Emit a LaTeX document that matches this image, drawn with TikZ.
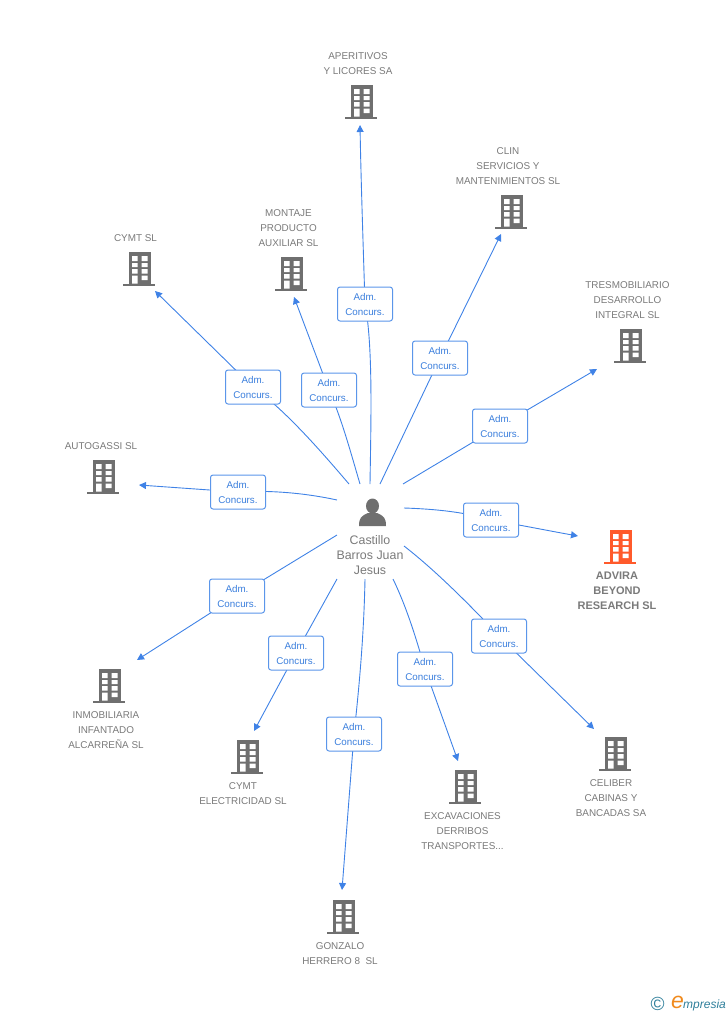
\documentclass[tikz,border=0pt]{standalone}
\usepackage{fontspec}
\setmainfont{Liberation Sans}
\usetikzlibrary{arrows.meta}
\definecolor{linkc}{HTML}{3F82E6}
\definecolor{boxc}{HTML}{5B96EA}
\definecolor{labc}{HTML}{3B7FDD}
\definecolor{txtc}{HTML}{7A7A7A}
\definecolor{bldc}{HTML}{6F6F6F}
\definecolor{hotc}{HTML}{FF5A2B}
\definecolor{tealc}{HTML}{2F7F9B}
\definecolor{orgc}{HTML}{F08A1D}
\newcommand{\bldshape}[1]{%
  \begin{scope}[shift={(path picture bounding box.center)}]
    \fill[#1] (-10,-17) rectangle (11.5,15);
    \fill[#1] (-16,14.5) rectangle (16,17);
    \fill[white] (-7,-13) rectangle (-1.5,-8) (2.5,-13) rectangle (8.5,-8)
                 (-7,-6) rectangle (-1.5,-2) (2.5,-6) rectangle (8.5,-2)
                 (-7,0) rectangle (-1.5,4.5) (2.5,0) rectangle (8.5,4.5)
                 (-7,6.5) rectangle (-1.5,14.5) (2.5,6.5) rectangle (8.5,11);
  \end{scope}}
\tikzset{
  x=1pt,y=-1pt,
  bld/.style={minimum width=32pt,minimum height=34pt,inner sep=0pt,outer sep=0pt,path picture={\bldshape{bldc}}},
  bldhot/.style={minimum width=32pt,minimum height=34pt,inner sep=0pt,outer sep=0pt,path picture={\bldshape{hotc}}},
  cname/.style={inner sep=0pt,align=center,text=txtc,font=\fontsize{9.9}{15}\selectfont},
  cnamebold/.style={cname,font=\fontsize{11}{15}\selectfont\bfseries},
  pers/.style={inner sep=0pt,align=center,text=txtc,font=\fontsize{12.4}{15}\selectfont},
  rolebox/.style={draw=boxc,line width=1pt,fill=white,rounded corners=2.5pt,minimum width=55pt,minimum height=34pt,inner sep=0pt,align=center,text=labc,font=\fontsize{9.8}{15}\selectfont},
  linkline/.style={draw=linkc,line width=0.9pt},
  linkarrow/.style={linkline,-{Triangle[length=7pt,width=7pt]}},
}
\newcommand{\rolelabel}{Adm.\\Concurs.}
\begin{document}
\begin{tikzpicture}
\useasboundingbox (0,0) rectangle (728,1015);
% buildings
\node[bld] (b1) at (361,102) {};
\node[bld] (b2) at (511,212) {};
\node[bld] (b3) at (630,346) {};
\node[bldhot] (b4) at (620,547) {};
\node[bld] (b5) at (615,754) {};
\node[bld] (b6) at (465,787) {};
\node[bld] (b7) at (343,917) {};
\node[bld] (b8) at (247,757) {};
\node[bld] (b9) at (109,686) {};
\node[bld] (b10) at (103,477) {};
\node[bld] (b11) at (139,269) {};
\node[bld] (b12) at (291,274) {};
% names
\node[cname] (n1) at (358,64) {APERITIVOS\\Y LICORES SA};
\node[cname] (n2) at (508,166.5) {CLIN\\SERVICIOS Y\\MANTENIMIENTOS SL};
\node[cname] (n3) at (627.5,300.5) {TRESMOBILIARIO\\DESARROLLO\\INTEGRAL SL};
\node[cnamebold] (n4) at (617,591) {ADVIRA\\BEYOND\\RESEARCH SL};
\node[cname] (n5) at (611,798.5) {CELIBER\\CABINAS Y\\BANCADAS SA};
\node[cname] (n6) at (462.5,831.5) {EXCAVACIONES\\DERRIBOS\\TRANSPORTES...};
\node[cname] (n7) at (340,954) {GONZALO\\HERRERO 8\ \ SL};
\node[cname] (n8) at (243,794) {CYMT\\ELECTRICIDAD SL};
\node[cname] (n9) at (106,730.5) {INMOBILIARIA\\INFANTADO\\ALCARREÑA SL};
\node[cname] (n10) at (101,446.5) {AUTOGASSI SL};
\node[cname] (n11) at (135.5,238.5) {CYMT SL};
\node[cname] (n12) at (288.5,228.5) {MONTAJE\\PRODUCTO\\AUXILIAR SL};
% connector ends
\coordinate (s1) at (370,484); \coordinate (e1) at (360,125);
\coordinate (s2) at (380,484); \coordinate (e2) at (501,234);
\coordinate (s3) at (403,484); \coordinate (e3) at (597,369);
\coordinate (s4) at (404,508); \coordinate (e4) at (578,536);
\coordinate (s5) at (404,546); \coordinate (e5) at (594,729);
\coordinate (s6) at (393,579); \coordinate (e6) at (458,761);
\coordinate (s7) at (365,579); \coordinate (e7) at (342,890);
\coordinate (s8) at (337,579); \coordinate (e8) at (254,731);
\coordinate (s9) at (337,535); \coordinate (e9) at (137,660);
\coordinate (s10) at (337,500); \coordinate (e10) at (139,485);
\coordinate (s11) at (349,484); \coordinate (e11) at (155,291);
\coordinate (s12) at (360,484); \coordinate (e12) at (294,297);
% role boxes positions
\coordinate (p1) at (365,304);
\coordinate (p2) at (440,358);
\coordinate (p3) at (500,426);
\coordinate (p4) at (491,520);
\coordinate (p5) at (499,636);
\coordinate (p6) at (425,669);
\coordinate (p7) at (354,734);
\coordinate (p8) at (296,653);
\coordinate (p9) at (237,596);
\coordinate (p10) at (238,492);
\coordinate (p11) at (253,387);
\coordinate (p12) at (329,390);
% connectors
\path[linkline] (s1) .. controls (371,420) and (373,345) .. (p1);
\path[linkarrow] (p1) .. controls (363,240) and (361,180) .. (e1);
\path[linkline] (s2) -- (p2);
\path[linkarrow] (p2) -- (e2);
\path[linkline] (s3) -- (p3);
\path[linkarrow] (p3) -- (e3);
\path[linkline] (s4) .. controls (435,509) and (465,512) .. (p4);
\path[linkarrow] (p4) .. controls (520,525) and (550,531) .. (e4);
\path[linkline] (s5) .. controls (435,570) and (470,605) .. (p5);
\path[linkarrow] (p5) -- (e5);
\path[linkline] (s6) .. controls (408,610) and (418,645) .. (p6);
\path[linkarrow] (p6) -- (e6);
\path[linkline] (s7) .. controls (364,630) and (360,680) .. (p7);
\path[linkarrow] (p7) -- (e7);
\path[linkline] (s8) -- (p8);
\path[linkarrow] (p8) -- (e8);
\path[linkline] (s9) -- (p9);
\path[linkarrow] (p9) -- (e9);
\path[linkline] (s10) .. controls (305,493) and (270,490) .. (p10);
\path[linkarrow] (p10) -- (e10);
\path[linkline] (s11) .. controls (320,450) and (285,410) .. (p11);
\path[linkarrow] (p11) -- (e11);
\path[linkline] (s12) .. controls (350,450) and (342,420) .. (p12);
\path[linkarrow] (p12) -- (e12);
% role boxes
\node[rolebox] (r1) at (p1) {\rolelabel};
\node[rolebox] (r2) at (p2) {\rolelabel};
\node[rolebox] (r3) at (p3) {\rolelabel};
\node[rolebox] (r4) at (p4) {\rolelabel};
\node[rolebox] (r5) at (p5) {\rolelabel};
\node[rolebox] (r6) at (p6) {\rolelabel};
\node[rolebox] (r7) at (p7) {\rolelabel};
\node[rolebox] (r8) at (p8) {\rolelabel};
\node[rolebox] (r9) at (p9) {\rolelabel};
\node[rolebox] (r10) at (p10) {\rolelabel};
\node[rolebox] (r11) at (p11) {\rolelabel};
\node[rolebox] (r12) at (p12) {\rolelabel};
% person
\fill[bldc] (372.5,506) ellipse (6.5 and 7.5);
\fill[bldc] (359,526) .. controls (359,518) and (361,516) .. (368,513) -- (377,513) .. controls (384,516) and (386,518) .. (386,526) -- cycle;
\node[pers] (person) at (370,555) {Castillo\\Barros Juan\\Jesus};
% logo
\node[inner sep=0pt,text=tealc,font=\fontsize{19}{19}\selectfont] (logoc) at (657.5,1004) {©};
\node[inner sep=0pt,text=orgc,font=\fontsize{23}{23}\selectfont\itshape] (logoe) at (677.5,1002.5) {e};
\node[inner sep=0pt,anchor=west,text=tealc,font=\fontsize{12}{12}\selectfont\itshape] (logot) at (683,1005) {mpresia};
\end{tikzpicture}
\end{document}
